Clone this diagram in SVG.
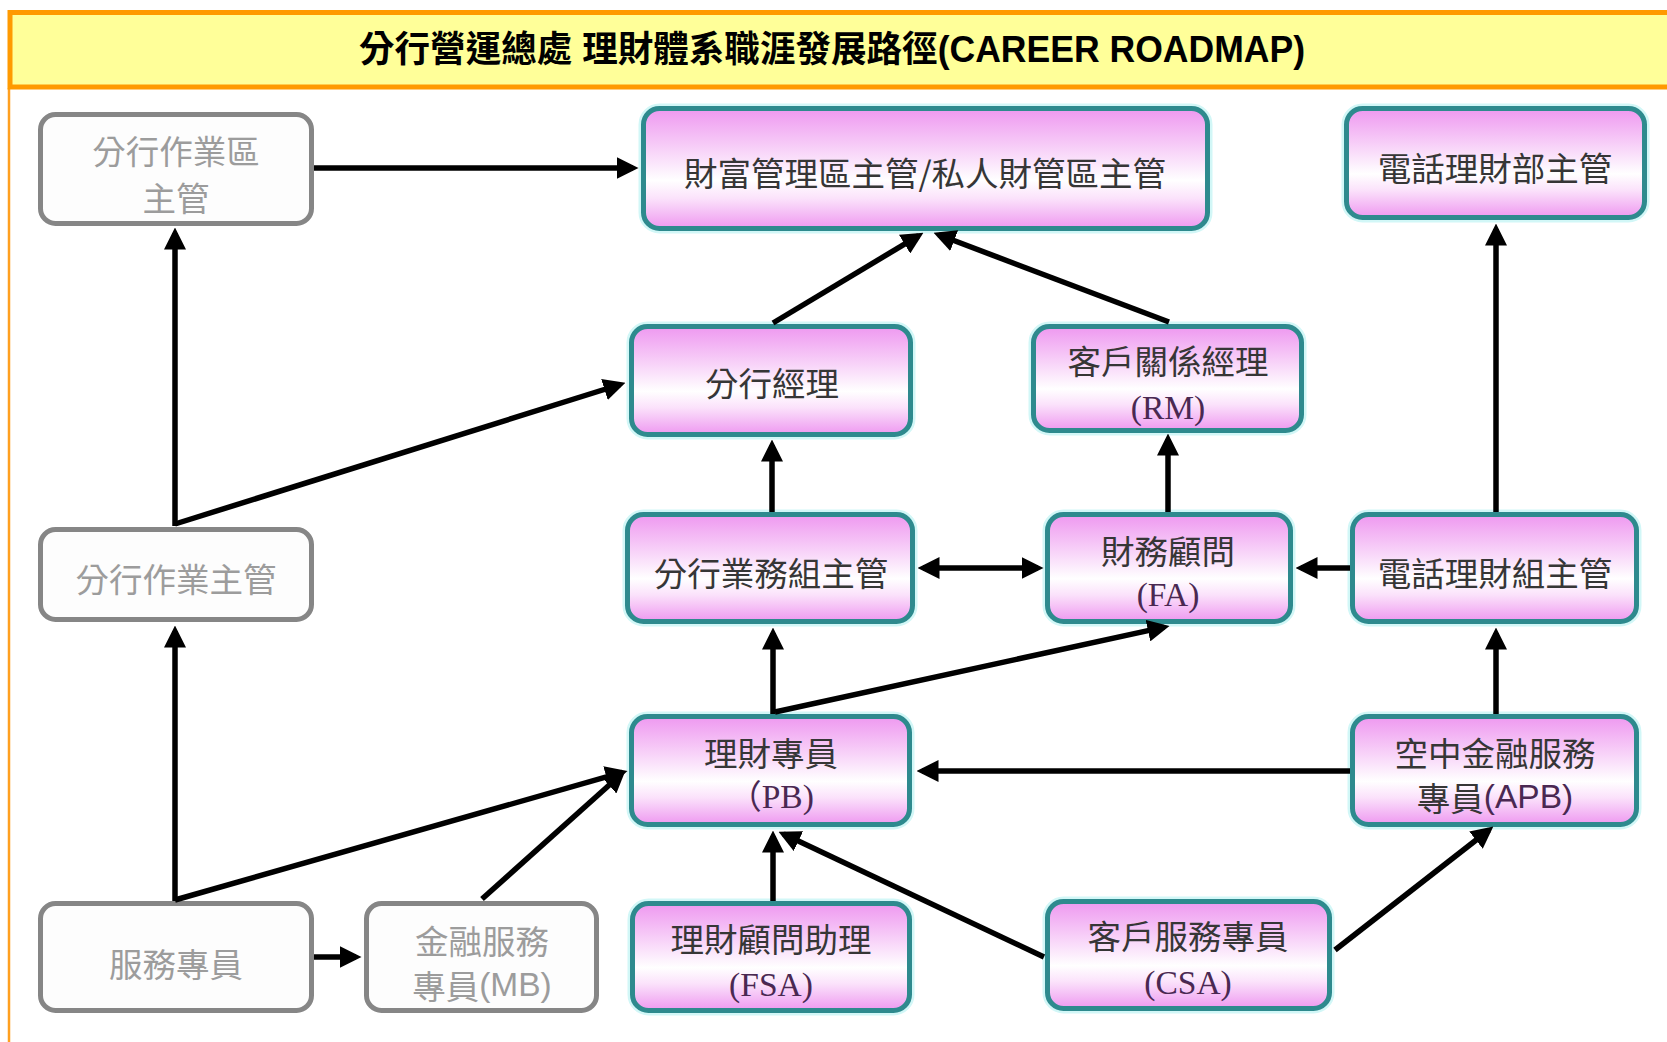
<svg xmlns="http://www.w3.org/2000/svg" width="1667" height="1042" viewBox="0 0 1667 1042">
<defs>
<linearGradient id="pink" x1="0" y1="0" x2="0" y2="1">
<stop offset="0" stop-color="#ee98f0"/>
<stop offset="0.25" stop-color="#f5c2f6"/>
<stop offset="0.6" stop-color="#ffffff"/>
<stop offset="0.75" stop-color="#fbe2fb"/>
<stop offset="1" stop-color="#ee98f0"/>
</linearGradient>
<marker id="ah" markerUnits="userSpaceOnUse" markerWidth="22" markerHeight="22" refX="16.5" refY="11" orient="auto-start-reverse">
<path d="M0,0 L22,11 L0,22 z" fill="#000"/>
</marker>
</defs>
<style>
.glow{fill:none;stroke:#d2f7f7;stroke-width:10}
.pk{fill:url(#pink);stroke:#2e8a8e;stroke-width:5}
.gy{fill:#fdfdfd;stroke:#868686;stroke-width:5}
.t{font-family:"Noto Sans CJK TC","Noto Sans CJK SC",sans-serif;font-size:33.5px;text-anchor:middle;dominant-baseline:central;fill:#363636}
.tg{fill:#9c9c9c}
.lat{font-family:"Liberation Serif","Noto Sans CJK TC",serif;fill:#4a2852}
.lats{font-family:"Liberation Sans","Noto Sans CJK TC",sans-serif;fill:#4a2852}
.latg{font-family:"Liberation Sans","Noto Sans CJK TC",sans-serif;fill:#9c9c9c}
.c{fill:none;stroke:#000;stroke-width:5.5;marker-end:url(#ah)}
</style>
<rect x="0" y="0" width="1667" height="1042" fill="#ffffff"/>
<g id="title">
<line x1="9" y1="88" x2="9" y2="1042" stroke="#ffa020" stroke-width="2.5"/>
<rect x="10" y="12.5" width="1680" height="74.5" fill="#ffff99" stroke="#ff9a00" stroke-width="5"/>
<text x="832" y="49" font-family="'Liberation Sans','Noto Sans CJK TC',sans-serif" font-size="36" font-weight="bold" text-anchor="middle" dominant-baseline="central" fill="#000" textLength="946" lengthAdjust="spacingAndGlyphs">分行營運總處 理財體系職涯發展路徑(CAREER ROADMAP)</text>
</g>
<g id="n1">
<rect class="gy" x="40.5" y="114.5" width="271" height="109" rx="15"/>
<text class="t tg" x="176" y="149">分行作業區</text>
<text class="t tg" x="176" y="196">主管</text>
</g>
<g id="n2">
<rect class="glow" x="643.5" y="108.5" width="564" height="120" rx="16"/>
<rect class="pk" x="643.5" y="108.5" width="564" height="120" rx="16"/>
<text class="t" x="925" y="171">財富管理區主管/私人財管區主管</text>
</g>
<g id="n3">
<rect class="glow" x="1346.5" y="108.5" width="298" height="109" rx="16"/>
<rect class="pk" x="1346.5" y="108.5" width="298" height="109" rx="16"/>
<text class="t" x="1495" y="166">電話理財部主管</text>
</g>
<g id="n4">
<rect class="glow" x="631.5" y="326.5" width="279" height="108" rx="16"/>
<rect class="pk" x="631.5" y="326.5" width="279" height="108" rx="16"/>
<text class="t" x="772" y="381">分行經理</text>
</g>
<g id="n5">
<rect class="glow" x="1033.5" y="326.5" width="268" height="104" rx="16"/>
<rect class="pk" x="1033.5" y="326.5" width="268" height="104" rx="16"/>
<text class="t" x="1168" y="359">客戶關係經理</text>
<text class="t lat" x="1168" y="407">(RM)</text>
</g>
<g id="n6">
<rect class="gy" x="40.5" y="529.5" width="271" height="90" rx="15"/>
<text class="t tg" x="176" y="577">分行作業主管</text>
</g>
<g id="n7">
<rect class="glow" x="627.5" y="514.5" width="285" height="107" rx="16"/>
<rect class="pk" x="627.5" y="514.5" width="285" height="107" rx="16"/>
<text class="t" x="771" y="571">分行業務組主管</text>
</g>
<g id="n8">
<rect class="glow" x="1047.5" y="514.5" width="243" height="107" rx="16"/>
<rect class="pk" x="1047.5" y="514.5" width="243" height="107" rx="16"/>
<text class="t" x="1168" y="549">財務顧問</text>
<text class="t lat" x="1168" y="594">(FA)</text>
</g>
<g id="n9">
<rect class="glow" x="1352.5" y="514.5" width="284" height="107" rx="16"/>
<rect class="pk" x="1352.5" y="514.5" width="284" height="107" rx="16"/>
<text class="t" x="1495" y="571">電話理財組主管</text>
</g>
<g id="n10">
<rect class="glow" x="631.5" y="716.5" width="278" height="108" rx="16"/>
<rect class="pk" x="631.5" y="716.5" width="278" height="108" rx="16"/>
<text class="t" x="771" y="751">理財專員</text>
<text class="t lat" x="771" y="796">（PB)</text>
</g>
<g id="n11">
<rect class="glow" x="1352.5" y="716.5" width="284" height="108" rx="16"/>
<rect class="pk" x="1352.5" y="716.5" width="284" height="108" rx="16"/>
<text class="t" x="1495" y="751">空中金融服務</text>
<text class="t" x="1495" y="796">專員<tspan class="lats">(APB)</tspan></text>
</g>
<g id="n12">
<rect class="gy" x="40.5" y="903.5" width="271" height="107" rx="15"/>
<text class="t tg" x="176" y="962">服務專員</text>
</g>
<g id="n13">
<rect class="gy" x="366.5" y="903.5" width="230" height="107" rx="15"/>
<text class="t tg" x="482" y="939">金融服務</text>
<text class="t tg" x="482" y="984">專員<tspan class="latg">(MB)</tspan></text>
</g>
<g id="n14">
<rect class="glow" x="632.5" y="903.5" width="277" height="107" rx="16"/>
<rect class="pk" x="632.5" y="903.5" width="277" height="107" rx="16"/>
<text class="t" x="771" y="937">理財顧問助理</text>
<text class="t lat" x="771" y="984">(FSA)</text>
</g>
<g id="n15">
<rect class="glow" x="1047.5" y="901.5" width="282" height="107" rx="16"/>
<rect class="pk" x="1047.5" y="901.5" width="282" height="107" rx="16"/>
<text class="t" x="1188" y="934">客戶服務專員</text>
<text class="t lat" x="1188" y="982">(CSA)</text>
</g>
<g id="connectors">
<line class="c" x1="314" y1="168" x2="633" y2="168"/>
<line class="c" x1="175" y1="526" x2="175" y2="233"/>
<line class="c" x1="175" y1="524" x2="620.2" y2="384.5"/>
<line class="c" x1="773" y1="323" x2="918.7" y2="235.6"/>
<line class="c" x1="1169" y1="322" x2="938.7" y2="234.8"/>
<line class="c" x1="772" y1="512" x2="772" y2="445"/>
<line class="c" x1="1168" y1="512" x2="1168" y2="439"/>
<line class="c" x1="923" y1="568" x2="1038" y2="568" marker-start="url(#ah)"/>
<line class="c" x1="1350" y1="568" x2="1301" y2="568"/>
<line class="c" x1="1496" y1="512" x2="1496" y2="229"/>
<line class="c" x1="773" y1="714" x2="773" y2="633"/>
<line class="c" x1="775" y1="712" x2="1164.1" y2="627.1"/>
<line class="c" x1="1350" y1="771" x2="922" y2="771"/>
<line class="c" x1="1496" y1="714" x2="1496" y2="633"/>
<line class="c" x1="175" y1="901" x2="175" y2="631"/>
<line class="c" x1="175" y1="900" x2="622.2" y2="772.4"/>
<line class="c" x1="482" y1="899" x2="621.3" y2="774.3"/>
<line class="c" x1="314" y1="957" x2="356" y2="957"/>
<line class="c" x1="773" y1="901" x2="773" y2="836"/>
<line class="c" x1="1044" y1="957" x2="783.5" y2="834.1"/>
<line class="c" x1="1335" y1="950" x2="1489" y2="830"/>
</g>
</svg>
